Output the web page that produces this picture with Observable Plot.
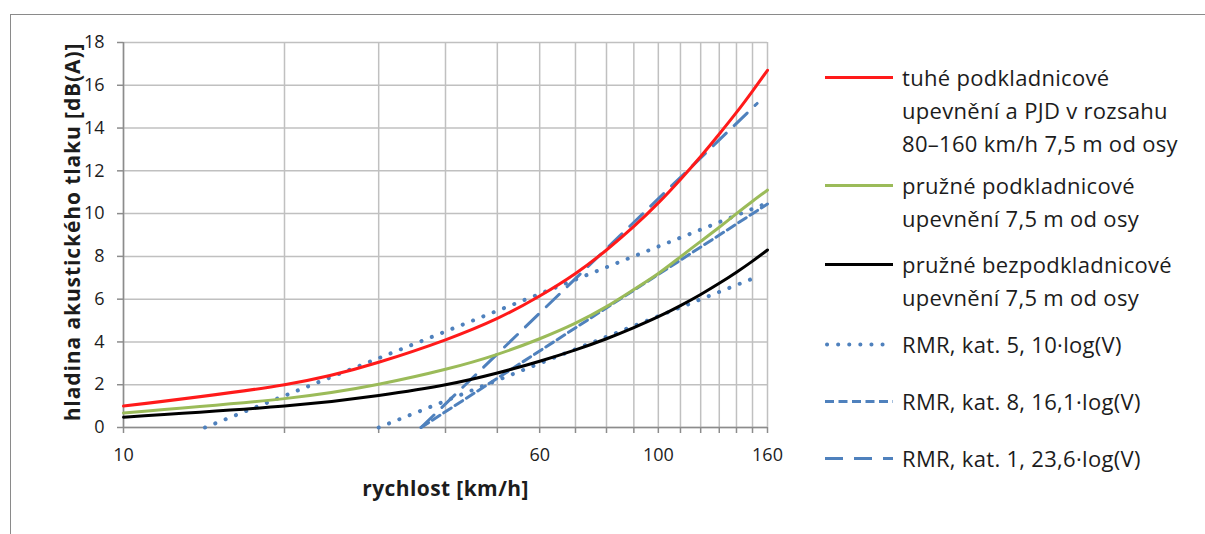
<!DOCTYPE html>
<html><head><meta charset="utf-8">
<script src="https://cdn.jsdelivr.net/npm/d3@7"></script>
<script src="https://cdn.jsdelivr.net/npm/@observablehq/plot@0.6"></script>
<style>
body{margin:0;background:#fff;}
#wrap{position:relative;width:1205px;height:534px;overflow:hidden;font-family:"Open Sans",sans-serif;color:#1c1c1c;}
#frame{position:absolute;left:10px;top:14px;width:1300px;height:600px;border-top:1.5px solid #8a8a8a;border-left:1.5px solid #8a8a8a;}
#chart{position:absolute;left:0;top:0;}
.entry{position:absolute;left:825px;display:flex;align-items:flex-start;}
.entry svg{flex:none;}
.entry .txt{margin-left:9px;font-size:22px;line-height:33px;letter-spacing:0.3px;white-space:nowrap;}
</style></head>
<body><div id="wrap"><div id="frame"></div><div id="chart"></div><div id="legend"></div></div>
<script>
// ---- data ----
const speeds = [10, 20, 30, 40, 50, 60, 70, 80, 90, 100, 110, 120, 130, 140, 150, 160];
const tuhe   = [1.0, 2.0, 3.05, 4.1, 5.1, 6.15, 7.2, 8.3, 9.4, 10.5, 11.6, 12.67, 13.72, 14.73, 15.73, 16.7];
const pruzne = [0.68, 1.35, 2.02, 2.72, 3.42, 4.15, 4.88, 5.65, 6.45, 7.2, 7.98, 8.7, 9.36, 10.0, 10.58, 11.1];
const bezpod = [0.48, 1.0, 1.5, 2.0, 2.55, 3.1, 3.63, 4.15, 4.67, 5.18, 5.7, 6.22, 6.74, 7.26, 7.78, 8.3];
const kat5aV = [14.2, 160], kat5aL = [0, 10.5];
const kat5bV = [30, 155],   kat5bL = [0, 7.1];
const kat8V  = [36, 160],   kat8L  = [0, 10.45];
const kat1V  = [36, 153],   kat1L  = [0, 15.15];
const xTicks = [10, 20, 30, 40, 50, 60, 70, 80, 90, 100, 110, 120, 130, 140, 150, 160];
const xLabels = [10, 60, 100, 160];
const yTicks = [0, 2, 4, 6, 8, 10, 12, 14, 16, 18];
const xTitle = "rychlost [km/h]";
const yTitle = "hladina akustického tlaku [dB(A)]";
const seriesNames = [
  ["tuhé podkladnicové", "upevnění a PJD v rozsahu", "80–160 km/h 7,5 m od osy"],
  ["pružné podkladnicové", "upevnění 7,5 m od osy"],
  ["pružné bezpodkladnicové", "upevnění 7,5 m od osy"],
  ["RMR, kat. 5, 10·log(V)"],
  ["RMR, kat. 8, 16,1·log(V)"],
  ["RMR, kat. 1, 23,6·log(V)"]
];

// ---- styles ----
const RED = "#ff1a1a", GREEN = "#9bbb59", BLACK = "#000000", BLUE = "#4f81bd";
const styles = [
  {stroke: RED, strokeWidth: 3},
  {stroke: GREEN, strokeWidth: 3},
  {stroke: BLACK, strokeWidth: 3},
  {stroke: BLUE, strokeWidth: 4, strokeDasharray: "0.1 11", strokeLinecap: "round"},
  {stroke: BLUE, strokeWidth: 3, strokeDasharray: "9 4.5"},
  {stroke: BLUE, strokeWidth: 3, strokeDasharray: "18 11"}
];

const pts = (xs, ys) => xs.map((v, i) => ({v, L: ys[i]}));
const curves = [pts(speeds, tuhe), pts(speeds, pruzne), pts(speeds, bezpod)];
const rmr = [[pts(kat5aV, kat5aL), 3], [pts(kat5bV, kat5bL), 3], [pts(kat8V, kat8L), 4], [pts(kat1V, kat1L), 5]];

const chart = Plot.plot({
  width: 1205, height: 534,
  marginLeft: 123, marginTop: 42, marginRight: 438, marginBottom: 107,
  x: {type: "log", domain: [10, 160]},
  y: {domain: [0, 18]},
  style: {fontFamily: "Open Sans, sans-serif", fontSize: "18px", color: "#1c1c1c", background: "transparent"},
  marks: [
    Plot.ruleX(xTicks, {stroke: "#c0c0c0", strokeWidth: 1.5}),
    Plot.ruleY(yTicks, {stroke: "#c0c0c0", strokeWidth: 1.5}),
    Plot.ruleX([10], {stroke: "#8c8c8c", strokeWidth: 1.5}),
    Plot.ruleY([0], {stroke: "#8c8c8c", strokeWidth: 1.5}),
    Plot.axisX({ticks: xTicks, tickSize: 6, tickPadding: 15, stroke: "#8c8c8c", strokeWidth: 1.5,
      tickFormat: d => xLabels.includes(d) ? String(d) : "", label: null}),
    Plot.axisY({ticks: yTicks, tickSize: 6, tickPadding: 13, stroke: "#8c8c8c", strokeWidth: 1.5, label: null}),
    ...rmr.map(([d, s]) => Plot.line(d, {x: "v", y: "L", ...styles[s]})),
    ...curves.map((d, i) => Plot.line(d, {x: "v", y: "L", curve: "natural", ...styles[i]})),
    Plot.text([xTitle], {frameAnchor: "bottom", dy: 68, fontWeight: "bold", fontSize: 21}),
    Plot.text([yTitle], {frameAnchor: "left", textAnchor: "middle", dx: -50, dy: -3, rotate: -90, fontWeight: "bold", fontSize: 21})
  ]
});
d3.select(chart).selectAll("text").each(function() {
  const t = this.textContent;
  if (t === yTitle) this.style.letterSpacing = "0.9px";
  if (t === xTitle) this.style.letterSpacing = "0.4px";
});
document.getElementById("chart").appendChild(chart);

// ---- legend ----
const centers = [77, 185, 264, 344, 401, 458];
const legend = document.getElementById("legend");
seriesNames.forEach((lines, i) => {
  const e = document.createElement("div");
  e.className = "entry";
  e.style.top = (centers[i] - 16.5) + "px";
  const s = styles[i];
  const svg = `<svg width="68" height="33"><line x1="${s.strokeLinecap ? 2 : 0}" x2="${s.strokeLinecap ? 66 : 68}" y1="16.5" y2="16.5" stroke="${s.stroke}" stroke-width="${s.strokeWidth}" ${s.strokeDasharray ? `stroke-dasharray="${s.strokeDasharray}"` : ""} ${s.strokeLinecap ? `stroke-linecap="${s.strokeLinecap}"` : ""}/></svg>`;
  e.innerHTML = svg + `<div class="txt">${lines.join("<br>")}</div>`;
  legend.appendChild(e);
});
</script>
</body></html>
